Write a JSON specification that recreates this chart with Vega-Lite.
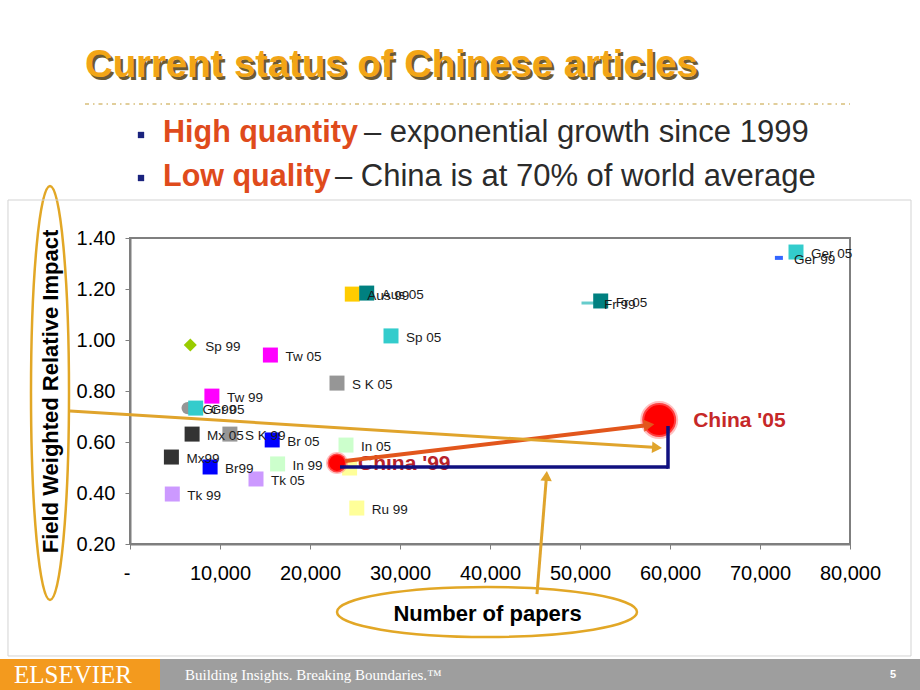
{
  "$schema": "https://vega.github.io/schema/vega-lite/v6.json",
  "width": 720,
  "height": 306,
  "autosize": {"type": "none"},
  "padding": {"left": 130, "top": 238, "right": 70, "bottom": 146},
  "background": "white",
  "config": {"view": {"stroke": "#7F7F7F", "strokeWidth": 2}, "font": "Liberation Sans"},
  "datasets": {
    "papers": [
      {"label": "Ger 05", "papers": 74000, "impact": 1.345},
      {"label": "Ger 99", "papers": 72100, "impact": 1.322},
      {"label": "Fr 99", "papers": 51000, "impact": 1.145},
      {"label": "Fr 05", "papers": 52300, "impact": 1.153},
      {"label": "Aus 99", "papers": 24700, "impact": 1.18},
      {"label": "Aus 05", "papers": 26300, "impact": 1.184},
      {"label": "Sp 05", "papers": 29000, "impact": 1.016},
      {"label": "Sp 99", "papers": 6700, "impact": 0.98},
      {"label": "Tw 05", "papers": 15600, "impact": 0.941},
      {"label": "S K 05", "papers": 23000, "impact": 0.831},
      {"label": "Tw 99", "papers": 9100, "impact": 0.78},
      {"label": "Gr 99", "papers": 6400, "impact": 0.733},
      {"label": "Gr 05", "papers": 7300, "impact": 0.733},
      {"label": "Mx 05", "papers": 6900, "impact": 0.631},
      {"label": "S K 99", "papers": 11100, "impact": 0.631},
      {"label": "Br 05", "papers": 15800, "impact": 0.608},
      {"label": "Mx99", "papers": 4600, "impact": 0.541},
      {"label": "Br99", "papers": 8900, "impact": 0.502},
      {"label": "In 05", "papers": 24000, "impact": 0.588},
      {"label": "In 99", "papers": 16400, "impact": 0.514},
      {"label": "Tk 05", "papers": 14000, "impact": 0.455},
      {"label": "Tk 99", "papers": 4700, "impact": 0.396},
      {"label": "Ru 99", "papers": 25200, "impact": 0.341},
      {"label": "Ru 05", "papers": 24400, "impact": 0.498},
      {"label": "China '99", "papers": 23000, "impact": 0.518},
      {"label": "China '05", "papers": 58800, "impact": 0.686}
    ]
  },
  "data": {"name": "papers"},
  "layer": [
    {
      "transform": [{"filter": {"field": "label", "oneOf": ["Gr 99"]}}],
      "mark": {"type": "point", "shape": "circle", "filled": true, "size": 150, "opacity": 1},
      "encoding": {
        "x": {
          "field": "papers", "type": "quantitative",
          "scale": {"domain": [0, 80000], "nice": false, "zero": false},
          "axis": {
            "title": "Number of papers",
            "values": [0, 10000, 20000, 30000, 40000, 50000, 60000, 70000, 80000],
            "labelExpr": "datum.value == 0 ? '-' : format(datum.value, ',')",
            "labelAlign": {"condition": {"test": "datum.value == 0", "value": "right"}, "value": "center"},
            "grid": false, "domainColor": "#7F7F7F", "domainWidth": 2,
            "tickColor": "#7F7F7F", "tickSize": 5, "tickWidth": 1,
            "labelFont": "Liberation Sans", "labelFontSize": 20, "labelColor": "#000000",
            "labelPadding": 14, "labelFlush": false, "labelOverlap": false,
            "titleFont": "Liberation Sans", "titleFontSize": 22, "titleFontWeight": "bold", "titleColor": "#000000",
            "titleX": 357, "titleY": 69, "titleAlign": "center", "titleBaseline": "middle"
          }
        },
        "y": {
          "field": "impact", "type": "quantitative",
          "scale": {"domain": [0.2, 1.4], "nice": false, "zero": false},
          "axis": {
            "title": "Field Weighted Relative Impact",
            "values": [0.2, 0.4, 0.6, 0.8, 1.0, 1.2, 1.4],
            "format": ".2f",
            "grid": false, "domainColor": "#7F7F7F", "domainWidth": 2,
            "tickColor": "#7F7F7F", "tickSize": 5, "tickWidth": 1,
            "labelFont": "Liberation Sans", "labelFontSize": 20, "labelColor": "#000000",
            "labelPadding": 10, "labelFlush": false, "labelOverlap": false,
            "titleFont": "Liberation Sans", "titleFontSize": 22, "titleFontWeight": "bold", "titleColor": "#000000",
            "titleX": -80, "titleY": 153, "titleAngle": -90, "titleAlign": "center", "titleBaseline": "middle"
          }
        },
        "color": {
          "field": "label", "type": "nominal", "legend": null,
          "scale": {
            "domain": ["Ger 05", "Ger 99", "Fr 99", "Fr 05", "Aus 99", "Aus 05", "Sp 05", "Sp 99", "Tw 05", "S K 05", "Tw 99", "Gr 99", "Gr 05", "Mx 05", "S K 99", "Br 05", "Mx99", "Br99", "In 05", "In 99", "Tk 05", "Tk 99", "Ru 99", "Ru 05", "China '99", "China '05"],
            "range": ["#33CCCC", "#3366FF", "#66CCCC", "#008080", "#FFCC00", "#008080", "#33CCCC", "#99CC00", "#FF00FF", "#969696", "#FF00FF", "#969696", "#33CCCC", "#333333", "#969696", "#0000FF", "#333333", "#0000FF", "#CCFFCC", "#CCFFCC", "#CC99FF", "#CC99FF", "#FFFF99", "#FFFF99", "#FF0000", "#FF0000"]
          }
        }
      }
    },
    {
      "transform": [{"filter": {"field": "label", "oneOf": ["Sp 99"]}}],
      "mark": {"type": "point", "shape": "diamond", "filled": true, "size": 170, "opacity": 1},
      "encoding": {"x": {"field": "papers", "type": "quantitative"}, "y": {"field": "impact", "type": "quantitative"}, "color": {"field": "label", "type": "nominal", "legend": null}}
    },
    {
      "transform": [{"filter": {"field": "label", "oneOf": ["Ger 99"]}}],
      "mark": {"type": "point", "shape": "M-1,-0.5H1V0.5H-1Z", "filled": true, "size": 64, "opacity": 1},
      "encoding": {"x": {"field": "papers", "type": "quantitative"}, "y": {"field": "impact", "type": "quantitative"}, "color": {"field": "label", "type": "nominal", "legend": null}}
    },
    {
      "transform": [{"filter": {"field": "label", "oneOf": ["Fr 99"]}}],
      "mark": {"type": "point", "shape": "M-1,-0.2H1V0.2H-1Z", "filled": true, "size": 225, "opacity": 1},
      "encoding": {"x": {"field": "papers", "type": "quantitative"}, "y": {"field": "impact", "type": "quantitative"}, "color": {"field": "label", "type": "nominal", "legend": null}}
    },
    {
      "transform": [{"filter": {"not": {"field": "label", "oneOf": ["Ger 99", "Fr 99", "Sp 99", "Gr 99", "China '99", "China '05"]}}}],
      "mark": {"type": "point", "shape": "square", "filled": true, "size": 225, "opacity": 1},
      "encoding": {"x": {"field": "papers", "type": "quantitative"}, "y": {"field": "impact", "type": "quantitative"}, "color": {"field": "label", "type": "nominal", "legend": null}}
    },
    {
      "transform": [{"filter": {"not": {"field": "label", "oneOf": ["Ru 05", "China '99", "China '05"]}}}],
      "mark": {"type": "text", "align": "left", "baseline": "middle", "dx": 15, "dy": 2, "fontSize": 13.5, "font": "Liberation Sans", "color": "#1A1A1A"},
      "encoding": {"x": {"field": "papers", "type": "quantitative"}, "y": {"field": "impact", "type": "quantitative"}, "text": {"field": "label"}}
    },
    {
      "transform": [{"filter": {"field": "label", "oneOf": ["China '99"]}}],
      "mark": {"type": "point", "shape": "circle", "filled": true, "size": 361, "opacity": 1, "stroke": "#FF8080", "strokeWidth": 3, "strokeOpacity": 0.5},
      "encoding": {"x": {"field": "papers", "type": "quantitative"}, "y": {"field": "impact", "type": "quantitative"}, "color": {"field": "label", "type": "nominal", "legend": null}}
    },
    {
      "transform": [{"filter": {"field": "label", "oneOf": ["China '05"]}}],
      "mark": {"type": "point", "shape": "circle", "filled": true, "size": 1156, "opacity": 1, "stroke": "#FF8080", "strokeWidth": 4, "strokeOpacity": 0.5},
      "encoding": {"x": {"field": "papers", "type": "quantitative"}, "y": {"field": "impact", "type": "quantitative"}, "color": {"field": "label", "type": "nominal", "legend": null}}
    },
    {
      "transform": [{"filter": {"field": "label", "oneOf": ["China '99"]}}],
      "mark": {"type": "text", "align": "left", "baseline": "middle", "dx": 21, "dy": 1, "fontSize": 21, "fontWeight": "bold", "font": "Liberation Sans", "color": "#B8232A"},
      "encoding": {"x": {"field": "papers", "type": "quantitative"}, "y": {"field": "impact", "type": "quantitative"}, "text": {"field": "label"}}
    },
    {
      "transform": [{"filter": {"field": "label", "oneOf": ["China '05"]}}],
      "mark": {"type": "text", "align": "left", "baseline": "middle", "dx": 34, "dy": 1, "fontSize": 21, "fontWeight": "bold", "font": "Liberation Sans", "color": "#C62828"},
      "encoding": {"x": {"field": "papers", "type": "quantitative"}, "y": {"field": "impact", "type": "quantitative"}, "text": {"field": "label"}}
    },
    {
      "data": {"values": [{}]},
      "mark": {"type": "rule", "color": "#10107F", "strokeWidth": 3.5},
      "encoding": {"x": {"datum": 23333, "type": "quantitative"}, "x2": {"datum": 59778}, "y": {"datum": 0.502, "type": "quantitative"}, "y2": {"datum": 0.502}}
    },
    {
      "data": {"values": [{}]},
      "mark": {"type": "rule", "color": "#10107F", "strokeWidth": 3.5},
      "encoding": {"x": {"datum": 59778, "type": "quantitative"}, "x2": {"datum": 59778}, "y": {"datum": 0.495, "type": "quantitative"}, "y2": {"datum": 0.6627}}
    },
    {
      "data": {"values": [{}]},
      "mark": {"type": "rule", "color": "#E2561C", "strokeWidth": 4},
      "encoding": {"x": {"datum": 23889, "type": "quantitative"}, "x2": {"datum": 57667}, "y": {"datum": 0.5255, "type": "quantitative"}, "y2": {"datum": 0.6667}}
    },
    {
      "data": {"values": [{}]},
      "mark": {"type": "point", "shape": "triangle-right", "filled": true, "size": 150, "color": "#E2561C", "opacity": 1, "angle": 353},
      "encoding": {"x": {"datum": 57667, "type": "quantitative"}, "y": {"datum": 0.6667, "type": "quantitative"}}
    },
    {
      "data": {"values": [{}]},
      "mark": {"type": "rule", "color": "#E0A42C", "strokeWidth": 3},
      "encoding": {"x": {"datum": -6667, "type": "quantitative"}, "x2": {"datum": 58556}, "y": {"datum": 0.7216, "type": "quantitative"}, "y2": {"datum": 0.578}}
    },
    {
      "data": {"values": [{}]},
      "mark": {"type": "point", "shape": "triangle-right", "filled": true, "size": 130, "color": "#E0A42C", "opacity": 1, "angle": 3.5},
      "encoding": {"x": {"datum": 58556, "type": "quantitative"}, "y": {"datum": 0.578, "type": "quantitative"}}
    },
    {
      "data": {"values": [{}]},
      "mark": {"type": "rule", "color": "#E0A42C", "strokeWidth": 3},
      "encoding": {"x": {"datum": 45222, "type": "quantitative"}, "x2": {"datum": 46278}, "y": {"datum": 0.0039, "type": "quantitative"}, "y2": {"datum": 0.4667}}
    },
    {
      "data": {"values": [{}]},
      "mark": {"type": "point", "shape": "triangle-right", "filled": true, "size": 130, "color": "#E0A42C", "opacity": 1, "angle": 274.3},
      "encoding": {"x": {"datum": 46278, "type": "quantitative"}, "y": {"datum": 0.4667, "type": "quantitative"}}
    },
    {
      "data": {"values": [{}]},
      "mark": {"type": "point", "shape": "M0.0918,0C0.0918,0.5523 0.0507,1 0,1C-0.0507,1 -0.0918,0.5523 -0.0918,0C-0.0918,-0.5523 -0.0507,-1 0,-1C0.0507,-1 0.0918,-0.5523 0.0918,0Z", "filled": false, "size": 171396, "color": "#E2A726", "strokeWidth": 2.5, "opacity": 1},
      "encoding": {"x": {"datum": -8889, "type": "quantitative"}, "y": {"datum": 0.7922, "type": "quantitative"}}
    },
    {
      "data": {"values": [{}]},
      "mark": {"type": "point", "shape": "M1,0C1,0.0921 0.5523,0.1667 0,0.1667C-0.5523,0.1667 -1,0.0921 -1,0C-1,-0.0921 -0.5523,-0.1667 0,-0.1667C0.5523,-0.1667 1,-0.0921 1,0Z", "filled": false, "size": 90000, "color": "#E2A726", "strokeWidth": 2.5, "opacity": 1},
      "encoding": {"x": {"datum": 39667, "type": "quantitative"}, "y": {"datum": -0.0667, "type": "quantitative"}}
    },
    {
      "data": {"values": [{}]},
      "mark": {"type": "rect", "fillOpacity": 0, "stroke": "#D3D3D3", "strokeWidth": 1},
      "encoding": {"x": {"datum": -13556, "type": "quantitative"}, "x2": {"datum": 86778}, "y": {"datum": 1.549, "type": "quantitative"}, "y2": {"datum": -0.2392}}
    },
    {
      "data": {"values": [{}]},
      "mark": {"type": "rect", "color": "#9E9E9E", "opacity": 1},
      "encoding": {"x": {"datum": -14444, "type": "quantitative"}, "x2": {"datum": 87778}, "y": {"datum": -0.251, "type": "quantitative"}, "y2": {"datum": -0.3725}}
    },
    {
      "data": {"values": [{}]},
      "mark": {"type": "rect", "color": "#F39A1E", "opacity": 1},
      "encoding": {"x": {"datum": -14444, "type": "quantitative"}, "x2": {"datum": 3333}, "y": {"datum": -0.251, "type": "quantitative"}, "y2": {"datum": -0.3725}}
    },
    {
      "data": {"values": [{}]},
      "mark": {"type": "text", "text": "ELSEVIER", "font": "Liberation Serif", "fontSize": 25, "color": "white", "align": "center", "baseline": "middle"},
      "encoding": {"x": {"datum": -6333, "type": "quantitative"}, "y": {"datum": -0.3137, "type": "quantitative"}}
    },
    {
      "data": {"values": [{}]},
      "mark": {"type": "text", "text": "Building Insights. Breaking Boundaries.™", "font": "Liberation Serif", "fontSize": 15, "color": "white", "align": "left", "baseline": "middle"},
      "encoding": {"x": {"datum": 6111, "type": "quantitative"}, "y": {"datum": -0.3137, "type": "quantitative"}}
    },
    {
      "data": {"values": [{}]},
      "mark": {"type": "text", "text": "5", "font": "Liberation Sans", "fontWeight": "bold", "fontSize": 11, "color": "white", "align": "center", "baseline": "middle"},
      "encoding": {"x": {"datum": 84778, "type": "quantitative"}, "y": {"datum": -0.3137, "type": "quantitative"}}
    },
    {
      "data": {"values": [{}]},
      "mark": {"type": "text", "text": "Current status of Chinese articles", "font": "Liberation Sans", "fontWeight": "bold", "fontSize": 38.3, "color": "#6B5A35", "align": "left", "baseline": "middle", "dx": 2.5, "dy": 2.5},
      "encoding": {"x": {"datum": -5000, "type": "quantitative"}, "y": {"datum": 2.0745, "type": "quantitative"}}
    },
    {
      "data": {"values": [{}]},
      "mark": {"type": "text", "text": "Current status of Chinese articles", "font": "Liberation Sans", "fontWeight": "bold", "fontSize": 38.3, "color": "#F2A516", "align": "left", "baseline": "middle"},
      "encoding": {"x": {"datum": -5000, "type": "quantitative"}, "y": {"datum": 2.0745, "type": "quantitative"}}
    },
    {
      "data": {"values": [{}]},
      "mark": {"type": "rule", "color": "#D8BE7A", "strokeWidth": 1.5, "strokeDash": [4, 4, 1.5, 4]},
      "encoding": {"x": {"datum": -5000, "type": "quantitative"}, "x2": {"datum": 80000}, "y": {"datum": 1.9255, "type": "quantitative"}, "y2": {"datum": 1.9255}}
    },
    {
      "data": {"values": [{}]},
      "mark": {"type": "point", "shape": "square", "filled": true, "size": 40, "color": "#1A237E", "opacity": 1},
      "encoding": {"x": {"datum": 1222, "type": "quantitative"}, "y": {"datum": 1.804, "type": "quantitative"}}
    },
    {
      "data": {"values": [{}]},
      "mark": {"type": "point", "shape": "square", "filled": true, "size": 40, "color": "#1A237E", "opacity": 1},
      "encoding": {"x": {"datum": 1222, "type": "quantitative"}, "y": {"datum": 1.6353, "type": "quantitative"}}
    },
    {
      "data": {"values": [{}]},
      "mark": {"type": "text", "text": "High quantity", "font": "Liberation Sans", "fontWeight": "bold", "fontSize": 30.5, "color": "#DF4B1C", "align": "left", "baseline": "middle"},
      "encoding": {"x": {"datum": 3667, "type": "quantitative"}, "y": {"datum": 1.8118, "type": "quantitative"}}
    },
    {
      "data": {"values": [{}]},
      "mark": {"type": "text", "text": "– exponential growth since 1999", "font": "Liberation Sans", "fontSize": 31, "color": "#2B2B2B", "align": "left", "baseline": "middle"},
      "encoding": {"x": {"datum": 26000, "type": "quantitative"}, "y": {"datum": 1.8118, "type": "quantitative"}}
    },
    {
      "data": {"values": [{}]},
      "mark": {"type": "text", "text": "Low quality", "font": "Liberation Sans", "fontWeight": "bold", "fontSize": 30.5, "color": "#DF4B1C", "align": "left", "baseline": "middle"},
      "encoding": {"x": {"datum": 3667, "type": "quantitative"}, "y": {"datum": 1.6392, "type": "quantitative"}}
    },
    {
      "data": {"values": [{}]},
      "mark": {"type": "text", "text": "– China is at 70% of world average", "font": "Liberation Sans", "fontSize": 31, "color": "#2B2B2B", "align": "left", "baseline": "middle"},
      "encoding": {"x": {"datum": 22778, "type": "quantitative"}, "y": {"datum": 1.6392, "type": "quantitative"}}
    }
  ]
}
